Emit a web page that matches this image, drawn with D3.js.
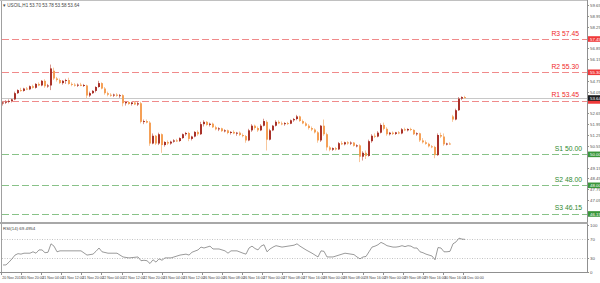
<!DOCTYPE html>
<html><head><meta charset="utf-8">
<script src="https://cdn.jsdelivr.net/npm/d3@7"></script>
<style>html,body{margin:0;padding:0;background:#fff;overflow:hidden}svg{display:block;font-family:"Liberation Sans",Arial,sans-serif}</style>
</head><body><svg id="c" width="600" height="283"></svg>
<script>
// ---- DATA ----
const title = "\u25BE USOIL,H1  53.70 53.78 53.58 53.64";
const rsiTitle = "RSI(14) 69.4954";
// [open, high, low, close]
const candles = [
[53.30,53.45,53.15,53.35],[53.35,53.50,53.25,53.40],[53.40,53.55,53.30,53.45],[53.45,53.60,53.35,53.55],[53.55,54.05,53.50,53.95],
[53.95,54.20,53.90,54.15],[54.15,54.30,54.05,54.10],[54.10,54.30,54.05,54.25],[54.25,54.35,54.15,54.20],[54.20,54.45,54.15,54.40],
[54.40,54.50,54.25,54.30],[54.30,54.60,54.25,54.55],[54.55,54.65,54.40,54.45],[54.45,54.80,54.40,54.75],[54.75,54.85,54.30,54.40],
[54.40,54.55,54.30,54.45],[54.45,55.80,54.15,55.55],[55.40,55.60,54.80,54.90],[54.90,55.00,54.70,54.80],[54.80,54.90,54.55,54.60],
[54.60,54.80,54.50,54.75],[54.75,54.88,54.55,54.80],[54.80,54.95,54.50,54.55],[54.55,54.65,54.40,54.50],[54.50,54.60,54.38,54.45],
[54.45,54.58,54.35,54.50],[54.50,54.62,54.40,54.42],[54.42,54.55,54.35,54.48],[54.45,54.50,53.60,53.80],[53.80,54.05,53.70,53.95],
[53.95,54.15,53.90,54.10],[54.10,54.40,54.00,54.35],[54.35,54.75,54.30,54.60],[54.60,54.65,54.20,54.25],[54.25,54.35,53.85,53.95],
[53.95,54.05,53.75,53.85],[53.85,53.95,53.72,53.80],[53.80,53.92,53.70,53.86],[53.86,53.95,53.72,53.78],[53.78,53.90,53.65,53.82],
[53.82,53.88,53.10,53.30],[53.30,53.45,53.15,53.38],[53.38,53.45,53.20,53.25],[53.25,53.40,53.15,53.35],[53.35,53.42,53.18,53.22],
[53.22,53.38,53.12,53.30],[53.30,53.40,52.00,52.10],[52.10,52.25,51.95,52.15],[52.15,52.25,52.00,52.05],[52.05,52.15,50.55,50.70],
[50.70,51.35,50.65,51.20],[51.20,51.25,50.60,50.70],[50.70,51.40,50.60,51.30],[51.30,51.35,50.10,50.60],[50.60,50.85,50.50,50.80],
[50.80,50.90,50.60,50.70],[50.70,50.88,50.62,50.82],[50.82,50.98,50.75,50.90],[50.90,51.00,50.80,50.86],[50.86,51.10,50.80,51.05],
[51.05,51.35,51.00,51.30],[51.30,51.45,51.20,51.38],[51.38,51.45,50.85,51.00],[51.00,51.20,50.90,51.15],[51.15,51.50,51.10,51.45],
[51.45,51.55,51.20,51.30],[51.30,52.10,51.25,51.95],[51.95,52.20,51.80,52.10],[52.10,52.15,51.85,51.90],[51.90,52.05,51.80,51.98],
[51.98,52.05,51.70,51.75],[51.75,51.85,51.55,51.62],[51.62,51.75,51.50,51.68],[51.68,51.72,51.45,51.50],[51.50,51.62,51.42,51.55],
[51.55,51.60,51.30,51.38],[51.38,51.50,51.28,51.45],[51.45,51.55,51.30,51.35],[51.35,51.45,51.20,51.40],[51.40,51.48,51.18,51.25],
[51.25,51.35,51.10,51.18],[51.18,51.25,50.75,50.90],[50.90,51.65,50.85,51.55],[51.55,51.95,51.45,51.85],[51.85,51.92,51.60,51.70],
[51.70,51.80,51.45,51.55],[51.55,51.95,51.50,51.85],[51.85,52.30,51.80,52.15],[52.10,52.20,50.25,50.95],[50.95,51.65,50.90,51.55],
[51.55,51.90,51.50,51.85],[51.85,52.20,51.80,52.10],[52.10,52.20,51.95,52.00],[52.00,52.12,51.88,51.95],[51.95,52.08,51.85,52.02],
[52.02,52.10,51.90,51.98],[51.98,52.25,51.95,52.20],[52.20,52.35,52.10,52.28],[52.28,52.55,52.20,52.45],[52.45,52.50,52.10,52.15],
[52.15,52.25,51.95,52.00],[52.00,52.10,51.80,51.85],[51.85,51.95,51.60,51.70],[51.70,51.80,51.50,51.60],[51.60,51.68,51.35,51.42],
[51.42,51.50,50.75,50.90],[50.90,51.90,50.80,51.85],[51.85,52.25,51.20,51.30],[51.30,51.40,50.25,50.45],[50.45,50.55,50.20,50.30],
[50.30,50.45,50.22,50.40],[50.40,50.48,50.25,50.32],[50.32,50.80,50.28,50.72],[50.72,50.85,50.60,50.65],[50.65,50.82,50.58,50.78],
[50.78,50.85,50.62,50.70],[50.70,50.84,50.60,50.76],[50.76,50.80,50.50,50.55],[50.55,50.65,50.45,50.58],[50.58,50.65,49.50,49.85],
[49.85,50.20,49.60,50.10],[50.10,50.25,49.70,49.90],[49.90,50.95,49.85,50.85],[50.85,51.30,50.75,51.20],[51.20,51.35,51.05,51.15],
[51.15,51.50,51.10,51.40],[51.40,52.00,51.35,51.90],[51.90,52.05,51.55,51.65],[51.65,51.75,51.20,51.30],[51.30,51.45,51.22,51.40],
[51.40,51.48,51.25,51.32],[51.32,51.45,51.25,51.42],[51.42,51.50,51.30,51.35],[51.35,51.70,51.30,51.62],[51.62,51.72,51.50,51.55],
[51.55,51.68,51.48,51.64],[51.64,51.72,51.50,51.58],[51.58,51.62,51.25,51.30],[51.30,51.42,51.20,51.36],[51.36,51.40,50.80,50.90],
[50.90,51.05,50.70,50.78],[50.78,50.90,50.62,50.68],[50.68,50.75,50.45,50.52],[50.52,50.60,50.40,50.48],[50.48,50.55,49.75,49.95],
[49.95,51.35,49.90,51.25],[51.25,51.40,51.05,51.15],[51.15,51.35,50.55,50.65],[50.65,50.75,50.58,50.70],[50.70,50.78,50.62,50.66],
[52.45,52.55,52.10,52.25],[52.25,52.95,52.20,52.85],[52.85,53.70,52.80,53.60],[53.60,53.75,53.50,53.70],[53.70,53.78,53.58,53.64]
];
const lastPrice = 53.64;
// pivot levels
const levelNames = ["R3","R2","R1","S1","S2","S3"];
const levelValues = [57.45,55.30,53.45,50.00,48.00,46.15];
// RSI readings: [candle index, RSI value]
const rsi = [[0,15],[1,15],[2,21],[3,28],[4,36],[5,39],[6,38],[7,40],[9,40],[10,43],[11,40],[12,47],[13,47],[14,41],[15,42],[16,60],[17,55],[18,43],[19,45],[22,45],[26,45],[28,36],[30,38],[31,44],[32,51],[33,43],[35,40],[38,40],[40,32],[42,30],[45,32],[46,24],[47,25],[48,24],[49,18],[50,26],[51,21],[52,28],[53,25],[54,30],[56,30],[57,32],[59,36],[61,38],[62,36],[63,42],[65,47],[66,53],[67,51],[69,55],[70,49],[72,49],[74,45],[75,40],[76,45],[78,45],[80,40],[81,38],[82,51],[83,55],[84,50],[85,47],[86,55],[87,58],[88,43],[89,49],[90,53],[91,56],[93,53],[95,55],[97,57],[98,60],[99,55],[101,47],[103,40],[105,32],[106,45],[107,44],[108,32],[110,32],[112,36],[114,40],[116,38],[117,37],[118,32],[119,28],[120,32],[121,33],[122,43],[123,53],[124,55],[125,58],[126,63],[127,60],[128,56],[130,53],[131,53],[132,54],[133,56],[134,54],[135,56],[136,55],[137,51],[138,51],[139,43],[140,41],[141,38],[142,36],[143,34],[144,26],[145,52],[146,51],[147,43],[148,43],[149,44],[150,60],[151,64],[152,72],[153,70],[154,69.5]];
const rsiLevels = [70,30];
const rsiTicks = ["100","70","30","0"];
const priceTicks = ["59.65","58.95","58.25","56.85","56.15","54.75","54.05","52.65","51.95","51.25","50.55","49.15","48.45","47.75","47.05"];
const timeLabels = ["20 Nov 2018","20 Nov 20:00","21 Nov 04:00","21 Nov 12:00","21 Nov 20:00","22 Nov 04:00","22 Nov 12:00","22 Nov 20:00","23 Nov 04:00","23 Nov 12:00","26 Nov 00:00","26 Nov 08:00","26 Nov 16:00","27 Nov 00:00","27 Nov 08:00","27 Nov 16:00","28 Nov 00:00","28 Nov 08:00","28 Nov 16:00","29 Nov 00:00","29 Nov 08:00","29 Nov 16:00","30 Nov 16:00","3 Dec 00:00"];

// ---- LAYOUT ----
const svg = d3.select('#c');
const L = 1, R = 587, mainTop = 1, mainBot = 222, rsiTop = 224, rsiBot = 272;
const x = d3.scaleLinear().domain([0, candles.length - 1]).range([3, 465]);
const y = d3.scaleLinear().domain([45.76, 59.84]).range([220, 2]);
const yr = d3.scaleLinear().domain([0, 100]).range([272, 225]);
const bull = "#a8322a", bear = "#f5a056";

svg.append('rect').attr('width',600).attr('height',283).attr('fill','#fff');

// frames
svg.append('line').attr('x1',L+0.5).attr('x2',L+0.5).attr('y1',0).attr('y2',rsiBot).attr('stroke','#a0a0a0').attr('stroke-width',1);
svg.append('line').attr('x1',0).attr('x2',R).attr('y1',0.5).attr('y2',0.5).attr('stroke','#c0c0c0');
svg.append('line').attr('x1',R+0.5).attr('x2',R+0.5).attr('y1',0).attr('y2',rsiBot+1).attr('stroke','#909090');
svg.append('rect').attr('x',0).attr('y',mainBot).attr('width',R+1).attr('height',2).attr('fill','#a8a8a8');
svg.append('line').attr('x1',0).attr('x2',R+1).attr('y1',rsiBot+0.5).attr('y2',rsiBot+0.5).attr('stroke','#909090');

// title
svg.append('text').attr('x',3).attr('y',7).attr('font-size',4.6).attr('fill','#444').text(title);

// current price line
svg.append('line').attr('x1',L+1).attr('x2',R).attr('y1',Math.round(y(lastPrice))+0.5).attr('y2',Math.round(y(lastPrice))+0.5)
  .attr('stroke','#c8c8c8').attr('stroke-width',1);

// levels
const lev = levelNames.map((n,i)=>({n, v: levelValues[i], res: n[0]==='R'}));
svg.selectAll('line.lev').data(lev).join('line').attr('class','lev')
  .attr('x1',L+1).attr('x2',R).attr('y1',d=>Math.round(y(d.v))+0.5).attr('y2',d=>Math.round(y(d.v))+0.5)
  .attr('stroke',d=>d.res?'#f08a8a':'#88c288').attr('stroke-width',1).attr('stroke-dasharray','7,3');
svg.selectAll('text.levl').data(lev).join('text').attr('class','levl')
  .attr('x',d=>d.res?579:582).attr('y',d=>y(d.v)-3.5).attr('text-anchor','end')
  .attr('font-size',6.8).attr('fill',d=>d.res?'#f02828':'#2f8a2f').text(d=>d.n+' '+d.v.toFixed(2));

// price axis ticks
svg.selectAll('g.pt').data(priceTicks).join('g').attr('class','pt').each(function(t){
  const g = d3.select(this), yy = Math.round(y(+t))+0.5;
  g.append('line').attr('x1',R).attr('x2',R+2).attr('y1',yy).attr('y2',yy).attr('stroke','#909090');
  g.append('text').attr('x',590).attr('y',yy+1.6).attr('font-size',4.4).attr('fill','#555').text(t);
});
// price tags (R1 tag sits under the current-price tag, its text is hidden there)
const tags = lev.map(d=>({v:d.v, c:d.res?'#f03a3a':'#3a963a', label: d.n!=='R1'})).concat([{v:lastPrice, c:'#1e1e1e', label:true}]);
svg.selectAll('g.tag').data(tags).join('g').attr('class','tag').each(function(d){
  const g = d3.select(this), yy = y(d.v);
  g.append('rect').attr('x',R+1).attr('y',yy-2.8).attr('width',12).attr('height',5.6).attr('fill',d.c);
  if (d.label) g.append('text').attr('x',590).attr('y',yy+1.6).attr('font-size',4.4).attr('fill','#fff').text(d.v.toFixed(2));
});

// candles
const cg = svg.append('g');
cg.selectAll('line.w').data(candles).join('line').attr('class','w')
  .attr('x1',(d,i)=>x(i)-0.5).attr('x2',(d,i)=>x(i)-0.5)
  .attr('y1',d=>y(d[1])).attr('y2',d=>y(d[2]))
  .attr('stroke',d=>d[3]>=d[0]?'#d9958d':'#f8c79c').attr('stroke-width',1);
cg.selectAll('rect.b').data(candles).join('rect').attr('class','b')
  .attr('x',(d,i)=>x(i)-1).attr('width',2)
  .attr('y',d=>y(Math.max(d[0],d[3])))
  .attr('height',d=>Math.max(1, Math.abs(y(d[0])-y(d[3]))))
  .attr('fill',d=>d[3]>=d[0]?bull:bear);

// RSI panel
svg.append('text').attr('x',3).attr('y',rsiTop+5.5).attr('font-size',4.4).attr('fill','#444').text(rsiTitle);
svg.selectAll('line.rl').data(rsiLevels).join('line').attr('class','rl')
  .attr('x1',L+1).attr('x2',R).attr('y1',d=>Math.round(yr(d))+0.5).attr('y2',d=>Math.round(yr(d))+0.5)
  .attr('stroke','#c4c4c4').attr('stroke-dasharray','1,1.5');
svg.append('path').datum(rsi)
  .attr('d', d3.line().x(d=>x(d[0])).y(d=>yr(d[1])))
  .attr('fill','none').attr('stroke','#6e6e6e').attr('stroke-width',0.7);
svg.selectAll('text.rt').data(rsiTicks).join('text').attr('class','rt')
  .attr('x',590).attr('y',d=>yr(+d)+1.8).attr('font-size',4.4).attr('fill','#555').text(d=>d);
svg.selectAll('line.rtk').data(rsiTicks).join('line').attr('class','rtk')
  .attr('x1',R).attr('x2',R+2).attr('y1',d=>Math.round(yr(+d))+0.5).attr('y2',d=>Math.round(yr(+d))+0.5).attr('stroke','#909090');

// time axis
const step = (candles.length - 1) / (timeLabels.length - 1);
svg.selectAll('g.tl').data(timeLabels).join('g').attr('class','tl').each(function(t,k){
  const g = d3.select(this), xx = Math.round(x(k*step)) - 1.5;
  g.append('line').attr('x1',xx).attr('x2',xx).attr('y1',rsiBot).attr('y2',rsiBot+3).attr('stroke','#909090');
  g.append('text').attr('x',xx+0.8).attr('y',279).attr('font-size',3.6).attr('fill','#444').text(t);
});
</script>
</body></html>
